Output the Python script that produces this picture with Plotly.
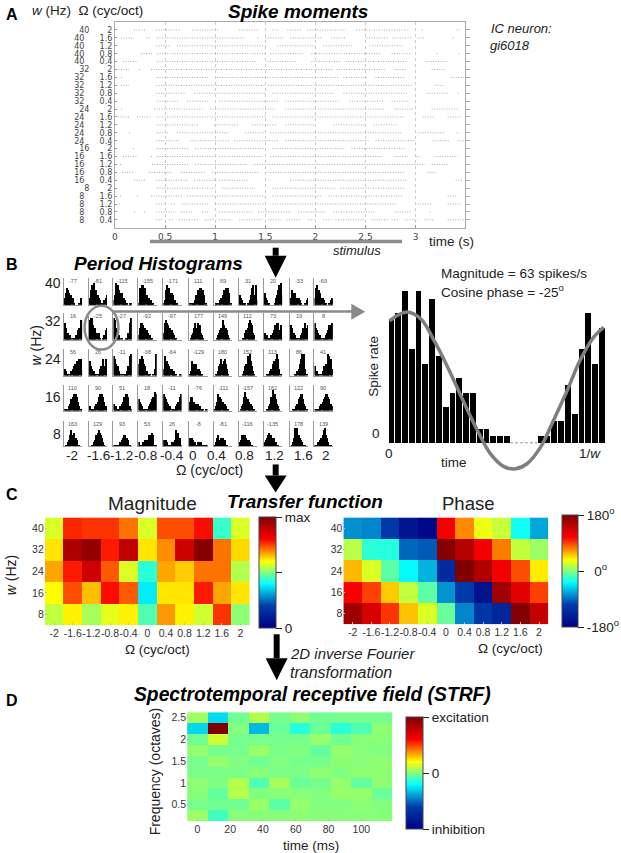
import plotly.graph_objects as go

W, H = 621, 853
FONT = "Liberation Sans"
TXT = "#222222"

# ---------- data ----------
w_rates = [40, 32, 24, 16, 8]
omegas = [-2, -1.6, -1.2, -0.8, -0.4, 0, 0.4, 0.8, 1.2, 1.6, 2]
omega_labels = ["-2", "-1.6", "-1.2", "-0.8", "-0.4", "0", "0.4", "0.8", "1.2", "1.6", "2"]
raster_omegas = ["2", "1.6", "1.2", "0.8", "0.4"]

raster_spans = [
    [(.19,.31),(.41,.66),(.77,1.04),(1.24,1.43),(1.57,1.63),(1.72,1.86),(1.92,2.3),(2.41,2.92),(3.06,3.08),(3.41,3.44)],
    [(.06,.19),(.31,.36),(.42,1.07),(1.07,1.28),(1.42,1.43),(1.5,1.68),(1.75,2.06),(2.16,2.3),(2.51,2.72),(2.77,2.96),(3.02,3.09),(3.37,3.38)],
    [(.41,.56),(.62,1.5),(1.62,2.0),(2.08,2.38),(2.54,2.87)],
    [(.26,.37),(.42,1.5),(1.55,1.88),(1.96,2.66),(2.76,2.96),(3.21,3.23),(3.43,3.45)],
    [(.08,.22),(.42,1.42),(1.52,1.81),(1.96,2.25),(2.3,2.92),(3.1,3.32)],
    [(.01,.14),(.24,.25),(.36,2.18),(2.21,2.69),(2.79,2.91),(3.16,3.29)],
    [(.06,.07),(.42,.94),(1.02,2.23),(2.28,2.51),(2.6,2.89),(3.35,3.49)],
    [(.06,.14),(.41,1.5),(1.53,2.96),(3.19,3.29)],
    [(.41,.71),(.79,1.5),(1.57,2.18),(2.28,2.91),(3.11,3.32),(3.42,3.44)],
    [(.42,.64),(.72,.94),(1.04,1.63),(1.7,2.23),(2.34,2.69),(2.76,2.92)],
    [(.06,.07),(.39,.87),(.95,1.6),(1.7,2.69),(2.79,2.99),(3.16,3.42)],
    [(.03,.14),(.22,.37),(.42,1.5),(1.57,2.89),(3.07,3.19),(3.32,3.45)],
    [(.42,.84),(.99,1.24),(1.37,1.62),(1.7,2.0),(2.18,2.49),(2.58,2.81)],
    [(.14,.15),(.42,.54),(.62,1.14),(1.3,1.5),(1.55,2.86),(3.02,3.29),(3.41,3.43)],
    [(.41,.64),(.75,1.14),(1.19,1.63),(1.7,2.53),(2.6,3.0),(3.17,3.34),(3.42,3.48)],
    [(.18,.19),(.42,.74),(.8,1.5),(1.57,2.28),(2.36,2.89)],
    [(.08,.22),(.36,.37),(.42,1.0),(1.04,1.47),(1.55,2.66),(2.79,2.92),(3.0,3.05),(3.19,3.42)],
    [(.05,.06),(.37,.74),(.8,1.33),(1.39,3.09),(3.16,3.32)],
    [(.07,.18),(.34,.57),(.66,.9),(.97,1.43),(1.5,2.89),(3.12,3.2)],
    [(.01,.02),(.19,.31),(.41,.72),(.79,1.0),(1.04,1.33),(1.75,2.92),(3.4,3.47)],
    [(.42,1.0),(1.07,1.4),(1.57,2.2),(2.25,2.89)],
    [(.05,.06),(.22,.23),(.36,.67),(.72,1.5),(1.57,2.06),(2.13,2.87),(3.32,3.42)],
    [(.04,.05),(.41,.51),(.56,.61),(.67,.94),(1.0,1.5),(1.57,2.82),(3.02,3.16),(3.32,3.45)],
    [(.19,.2),(.29,.3),(.41,.61),(.66,.77),(.87,.94),(1.04,1.37),(1.43,1.76),(1.83,2.1),(2.18,2.59),(2.79,2.96),(3.14,3.15)],
    [(.41,.47),(.54,.59),(.64,.84),(.9,1.0),(1.04,1.17),(1.24,1.47),(1.53,1.66),(1.71,1.86),(1.93,2.0),(2.08,2.16),(2.2,2.49),(2.56,2.72),(2.76,2.82),(2.89,3.02),(3.09,3.19),(3.32,3.49)],
]

phase_deg = [
    [-77, -81, -115, -155, -171, 111, 69, 31, 20, -33, -69],
    [16, -25, -27, -92, -97, 177, 149, 112, 73, 19, 8],
    [56, 26, -11, -38, -64, -129, 180, 152, 113, 86, 41],
    [110, 90, 51, 18, -11, -76, -111, -157, 162, 122, 90],
    [163, 129, 93, 53, 26, -8, -81, -116, -135, 178, 139],
]

mini_hist = [
    [[3,5,7,6,5,4,4,3,1,0,0,0,0,1,3,1],[3,6,8,7,9,6,6,4,3,2,1,1,1,2,3,4],[2,4,9,7,8,6,5,5,3,3,2,1,1,0,1,1],
     [1,7,7,8,8,7,7,4,3,3,2,2,1,1,0,0],[1,2,6,8,7,7,5,5,4,2,2,1,1,0,0,0],[1,0,1,1,1,2,4,6,5,7,7,5,6,4,1,0],
     [0,1,1,0,1,2,3,4,6,6,7,5,7,5,1,0],[4,3,2,1,1,1,0,1,1,2,4,7,8,4,8,2],[5,3,2,1,1,0,0,0,0,1,3,4,6,8,9,4],
     [3,6,5,4,5,3,3,3,2,1,0,0,0,1,2,3],[3,7,8,6,6,5,3,3,2,1,1,0,0,1,2,3]],
    [[7,5,3,3,2,2,1,1,1,1,2,2,4,5,8,8],[8,9,9,6,5,5,3,3,3,1,0,0,1,2,4,5],[9,8,5,4,3,2,1,1,0,0,0,1,1,3,7,9],
     [2,5,7,7,6,5,5,4,3,2,2,1,1,0,0,0],[3,7,8,7,6,5,5,4,3,2,1,1,0,0,0,0],[0,1,2,3,5,7,5,7,6,6,3,2,1,0,0,0],
     [0,0,1,2,3,4,5,8,6,5,5,4,2,1,0,0],[0,0,0,1,1,3,4,5,7,8,7,6,3,2,0,0],[3,2,2,1,1,1,2,3,4,6,5,7,7,4,6,1],
     [6,5,3,3,2,1,1,1,1,2,3,5,5,7,5,6],[7,5,4,3,2,2,1,1,1,1,2,3,4,6,6,7]],
    [[3,2,1,1,0,1,2,3,4,5,4,6,5,7,7,2],[6,4,3,2,2,1,1,1,1,3,4,3,7,4,7,5],[8,7,5,4,4,2,1,1,0,1,1,1,2,4,8,9],
     [5,7,6,8,7,5,4,2,1,1,1,0,0,1,3,9],[3,8,6,6,5,4,3,3,2,2,1,1,0,0,1,1],[1,2,6,4,5,4,5,3,3,2,1,1,0,0,0,0],
     [0,1,1,2,4,5,7,5,6,7,5,3,1,0,0,0],[0,0,0,1,2,4,5,8,6,9,6,4,2,1,0,0],[0,0,1,1,1,2,3,5,6,5,7,9,7,3,1,0],
     [0,0,0,0,1,1,2,3,5,7,9,9,9,3,1,0],[4,2,2,1,1,0,1,2,4,3,5,5,9,8,7,3]],
    [[1,1,1,1,2,3,5,6,7,6,7,6,4,2,1,1],[2,1,1,1,1,2,3,4,6,7,7,7,6,4,2,1],[3,2,2,1,1,1,2,3,4,6,6,7,7,6,2,1],
     [5,4,3,2,1,1,1,1,1,2,3,4,5,6,8,7],[7,6,5,4,3,2,2,1,1,1,1,2,3,4,6,7],[4,6,6,4,4,3,3,3,2,2,1,1,1,0,1,1],
     [1,2,4,7,6,6,5,4,3,3,2,1,1,0,0,0],[0,1,2,3,6,8,6,5,4,3,3,2,1,1,0,0],[0,0,1,1,2,3,6,9,5,7,5,3,2,1,0,0],
     [0,0,1,1,1,2,3,5,6,7,7,5,3,2,1,0],[1,1,1,1,1,2,3,4,5,6,7,7,6,5,3,2]],
    [[0,1,1,2,3,5,7,5,6,4,4,3,1,1,0,0],[0,0,1,1,2,3,5,6,7,6,5,4,2,1,0,0],[1,1,1,1,1,1,2,3,4,5,5,4,4,3,1,0],
     [2,1,1,1,2,2,3,3,3,5,4,5,6,5,1,1],[3,2,3,2,1,1,1,2,1,2,3,7,5,6,4,1],[4,3,4,3,2,2,1,2,2,1,2,1,1,1,1,1],
     [1,2,4,5,3,3,4,4,3,3,1,1,0,0,0,0],[2,3,5,5,4,5,4,3,3,2,1,1,0,0,0,0],[2,3,4,5,6,5,5,4,4,2,2,1,1,0,0,0],
     [0,1,2,4,8,5,8,5,4,3,2,1,1,1,0,0],[1,1,1,2,2,3,4,5,7,8,5,4,2,1,1,0]],
]

big_hist = [17,18,21,13,21,11,20,12,5,7,9,7,7,2,2,1,1,1,0,0,0,0,1,1,3,3,8,4,13,18,11,16]
curve_x = [0.25,2.8,4.9,6.84,8.8,11.2,13.2,15.1,17.1,18.8,20.5,22.5,24.4,26.4,28.3,30.3,31.8]
curve_y = [16.9,18.1,17.1,14.1,10.5,5.6,1.7,-1.5,-3.3,-3.6,-2.9,-0.6,3.1,7.2,11.4,14.6,16.0]
empty_bins = [18, 22]

magnitude = [
    [.57,.77,.76,.76,.71,.57,.74,.74,.79,.44,.57],
    [.62,.93,.97,.78,.90,.62,.69,.87,.99,.71,.63],
    [.67,.78,.87,.73,.57,.43,.67,.64,.71,.71,.54],
    [.60,.74,.65,.79,.73,.38,.62,.62,.78,.67,.62],
    [.55,.61,.53,.58,.61,.46,.68,.61,.56,.76,.51],
]

strf_time = [0, 12.5, 25, 37.5, 50, 62.5, 75, 87.5, 100, 112.5]
strf_freq = [2.5, 2.25, 2.0, 1.75, 1.5, 1.25, 1.0, 0.75, 0.5, 0.25]
strf = [
    [.05,-.27,-.03,.08,-.02,.02,-.03,-.02,-.02,-.02],
    [-.28,1.0,0,-.34,-.04,-.15,-.04,-.14,-.08,.02],
    [-.03,.12,-.02,-.02,-.02,-.02,.03,-.03,.01,.01],
    [.03,-.02,-.02,.04,-.01,0,-.05,.03,.01,0],
    [-.02,.03,0,-.03,0,-.02,-.02,.02,.01,.02],
    [-.01,-.01,-.01,.01,-.01,-.01,.02,0,.02,.02],
    [.02,0,.08,-.08,.06,-.04,-.02,.03,-.05,.02],
    [.01,-.05,.08,0,.01,.01,0,.03,.03,-.04],
    [-.02,-.03,-.03,.04,-.06,.03,0,0,.02,0],
    [.04,-.1,.01,.01,.01,.02,.01,.01,.01,.01],
]

# ---------- helpers ----------
def dx(a, b): return [a / W, b / W]
def dy(top, bottom): return [1 - bottom / H, 1 - top / H]

annotations, shapes = [], []

def text(px, py, s, size=13, anchor="center", color=TXT, angle=0, vanchor="middle", family=FONT):
    annotations.append(dict(xref="paper", yref="paper", x=px / W, y=1 - py / H, text=s, showarrow=False,
                            xanchor=anchor, yanchor=vanchor, textangle=angle, borderpad=0, borderwidth=0,
                            font=dict(family=family, size=size, color=color)))

def rect(x0, y0, x1, y1, color):
    shapes.append(dict(type="rect", xref="paper", yref="paper", x0=x0 / W, x1=x1 / W, y0=1 - y0 / H, y1=1 - y1 / H,
                       fillcolor=color, line=dict(width=0)))

def tri(xl, xr, yt, tipx, tipy, color):
    path = f"M {xl/W} {1-yt/H} L {xr/W} {1-yt/H} L {tipx/W} {1-tipy/H} Z"
    shapes.append(dict(type="path", xref="paper", yref="paper", path=path, fillcolor=color, line=dict(width=0)))

def black_arrow(cx, y0, yhead, ytip, half=11, shaft=3):
    rect(cx - shaft, y0, cx + shaft, yhead, "black")
    tri(cx - half, cx + half, yhead, cx, ytip, "black")

layout = dict(width=W, height=H, margin=dict(l=0, r=0, t=0, b=0), paper_bgcolor="white", plot_bgcolor="white",
              showlegend=False, bargap=0, font=dict(family=FONT, color=TXT))
traces = []

# ---------- panel A ----------
sx, sy = [], []
for row, spans in enumerate(raster_spans):
    for a, b in spans:
        sx += [a, b, None]
        sy += [row, row, None]
traces.append(go.Scatter(x=sx, y=sy, mode="lines", xaxis="x", yaxis="y", hoverinfo="skip",
                         line=dict(color="#aaaaaa", width=1, dash="1px,1.5px")))
row_labels = []
for w in w_rates:
    for o in raster_omegas:
        gap = "\u00a0" * (7 if len(o) == 1 else 6)
        row_labels.append(f"{w}{gap}{o}")
rows = list(range(25))
layout["xaxis"] = dict(domain=dx(112.5, 464.5), range=[0, 3.495], anchor="y", tickvals=[0, .5, 1, 1.5, 2, 2.5, 3],
                       ticktext=["0", "0.5", "1", "1.5", "2", "2.5", "3"], ticks="inside", ticklen=3, tickcolor="#999",
                       showgrid=True, gridcolor="#cccccc", griddash="dot", gridwidth=1, zeroline=False,
                       showline=True, linecolor="#aaaaaa", linewidth=1, mirror=True, tickangle=0,
                       tickfont=dict(family="DejaVu Sans", size=9, color="#444"))
layout["yaxis"] = dict(domain=dy(20.7, 227), range=[25, -1.05], anchor="x", tickvals=rows, ticktext=row_labels,
                       ticks="inside", ticklen=2, tickcolor="#999", showgrid=False, zeroline=False, showline=True,
                       linecolor="#aaaaaa", linewidth=1, mirror=True,
                       tickfont=dict(family="DejaVu Sans", size=8, color="#444"))
traces.append(go.Scatter(x=[None], y=[None], xaxis="x", yaxis="y2", hoverinfo="skip"))
layout["yaxis2"] = dict(overlaying="y", side="right", range=[25, -1.05], anchor="x", tickvals=rows, showticklabels=False,
                        ticks="outside", ticklen=4, tickcolor="#aaa", showgrid=False, zeroline=False, showline=False)

text(9, 14, "<b>A</b>", 16, anchor="center", color="black")
text(29, 10, "<i>w</i> (Hz)\u00a0\u00a0Ω (cyc/oct)", 13.5, anchor="left")
text(296.5, 11, "<b><i>Spike moments</i></b>", 19, color="black")
text(490, 28, "<i>IC neuron:</i>", 13, anchor="left")
text(489, 45, "<i>gi6018</i>", 13, anchor="left")
text(428, 241, "time (s)", 13.5, anchor="left")
text(356, 250, "<i>stimulus</i>", 13)
rect(147.7, 239, 401, 242.5, "#8f8f8f")
black_arrow(274, 247, 255, 277)

# ---------- panel B ----------
col_left = [61, 86, 111, 136, 161, 187, 212, 237, 262, 288, 313]
row_top = [277, 312, 348, 384, 420]
row_bottom = [304, 339, 375, 410, 446]
row_label_y = [282, 320, 358, 396, 434]
n = 3
mini_bins = [i + 0.5 for i in range(16)]
for r in range(5):
    for c in range(11):
        traces.append(go.Bar(x=mini_bins, y=mini_hist[r][c], width=1, marker=dict(color="black", line=dict(width=0)),
                             xaxis=f"x{n}", yaxis=f"y{n}", hoverinfo="skip"))
        layout[f"xaxis{n}"] = dict(domain=dx(col_left[c], col_left[c] + 18.5), range=[0, 16], anchor=f"y{n}",
                                   showticklabels=False, ticks="", showgrid=False, zeroline=False,
                                   showline=True, linecolor="#9a9a9a", linewidth=1)
        layout[f"yaxis{n}"] = dict(domain=dy(row_top[r], row_bottom[r]), range=[0, 11], anchor=f"x{n}",
                                   showticklabels=False, ticks="", showgrid=False, zeroline=False,
                                   showline=True, linecolor="#9a9a9a", linewidth=1)
        text(col_left[c] + 9, row_top[r] + 3, str(phase_deg[r][c]), 5.5, color="#555")
        n += 1

text(9, 264, "<b>B</b>", 16, color="black")
text(156.5, 263, "<b><i>Period Histograms</i></b>", 19, color="black")
for w, y in zip(w_rates, row_label_y):
    text(58, y, str(w), 14, anchor="right")
text(33, 345, "<i>w</i> (Hz)", 14, angle=-90)
bx = [69, 96, 119, 143, 170, 191, 215, 243, 273, 302, 325]
for x, l in zip(bx, omega_labels):
    text(x, 455, l, 13.5)
text(207, 470, "Ω (cyc/oct)", 14)
shapes.append(dict(type="circle", xref="paper", yref="paper", x0=82 / W, x1=116 / W, y0=1 - 349 / H, y1=1 - 305 / H,
                   line=dict(color="#8a8a8a", width=2.5)))
rect(110, 309.7, 352, 312, "#8a8a8a")
shapes.append(dict(type="path", xref="paper", yref="paper",
                   path=f"M {350/W} {1-303/H} L {364/W} {1-311/H} L {350/W} {1-319/H} Z",
                   fillcolor="#8a8a8a", line=dict(width=0)))

big_x = [i + 0.5 for i in range(32)]
traces.append(go.Bar(x=big_x, y=big_hist, width=0.84, marker=dict(color="black", line=dict(width=0)),
                     xaxis=f"x{n}", yaxis=f"y{n}", hoverinfo="skip"))
traces.append(go.Scatter(x=empty_bins, y=[0, 0], mode="lines", line=dict(color="#999", width=1, dash="3px,2px"),
                         xaxis=f"x{n}", yaxis=f"y{n}", hoverinfo="skip"))
traces.append(go.Scatter(x=curve_x, y=curve_y, mode="lines", line=dict(color="#7f7f7f", width=3.5, shape="spline"),
                         xaxis=f"x{n}", yaxis=f"y{n}", hoverinfo="skip"))
layout[f"xaxis{n}"] = dict(domain=dx(386.7, 605), range=[0, 32], anchor=f"y{n}", visible=False)
layout[f"yaxis{n}"] = dict(domain=dy(280, 475), range=[-4.52, 22.45], anchor=f"x{n}", visible=False)
n += 1
text(440, 273, "Magnitude = 63 spikes/s", 13.5, anchor="left")
text(440, 290, "Cosine phase = -25<sup>o</sup>", 13.5, anchor="left")
text(375, 433, "0", 13.5)
text(388, 453, "0", 13.5)
text(590, 453, "1/<i>w</i>", 13.5)
text(453, 462, "time", 13.5)
text(372, 366, "Spike rate", 13.5, angle=-90)
black_arrow(274, 464, 475, 492)

# ---------- panel C ----------
def heat_axes(xname, yname, xd, yd):
    tf = dict(family=FONT, size=10.5, color="#333")
    layout[xname] = dict(domain=xd, range=[-2.2, 2.2], anchor=yname.replace("axis", ""), tickvals=omegas,
                         ticktext=omega_labels, ticks="inside", ticklen=2, tickcolor="#bbb", tickfont=tf, tickangle=0,
                         showgrid=False, zeroline=False, showline=False)
    layout[yname] = dict(domain=yd, range=[4, 44], anchor=xname.replace("axis", ""), tickvals=w_rates,
                         ticks="inside", ticklen=2, tickcolor="#bbb", tickfont=tf,
                         showgrid=False, zeroline=False, showline=False)

traces.append(go.Heatmap(z=magnitude, x=omegas, y=w_rates, colorscale="Jet", zmin=0, zmax=1, xaxis=f"x{n}", yaxis=f"y{n}",
                         hoverinfo="skip",
                         colorbar=dict(x=257 / W, xanchor="left", y=1 - 628 / H, yanchor="bottom", len=111 / H, lenmode="fraction",
                                       thickness=17, thicknessmode="pixels", xpad=0, ypad=0, tickvals=[0, .5, 1],
                                       ticktext=["0", "\u00a0", "max"], ticks="outside", ticklen=6, tickcolor="#222",
                                       outlinecolor="#445", outlinewidth=1, tickfont=dict(family=FONT, size=13.5, color=TXT))))
heat_axes(f"xaxis{n}", f"yaxis{n}", dx(42, 248), dy(517, 625))
n += 1
traces.append(go.Heatmap(z=phase_deg, x=omegas, y=w_rates, colorscale="Jet", zmin=-180, zmax=180, xaxis=f"x{n}", yaxis=f"y{n}",
                         hoverinfo="skip",
                         colorbar=dict(x=562 / W, xanchor="left", y=1 - 627 / H, yanchor="bottom", len=112 / H, lenmode="fraction",
                                       thickness=16, thicknessmode="pixels", xpad=0, ypad=0, tickvals=[-180, 0, 180],
                                       ticktext=["-180<sup>o</sup>", "\u00a0\u00a00<sup>o</sup>", "180<sup>o</sup>"],
                                       ticks="outside", ticklen=6, tickcolor="#222",
                                       outlinecolor="#445", outlinewidth=1, tickfont=dict(family=FONT, size=13.5, color=TXT))))
heat_axes(f"xaxis{n}", f"yaxis{n}", dx(342, 548), dy(517, 624))
n += 1
text(9, 494, "<b>C</b>", 16, color="black")
text(150, 503, "Magnitude", 19)
text(303.5, 501, "<b><i>Transfer function</i></b>", 19, color="black")
text(467, 503, "Phase", 18.5)
text(8, 575, "<i>w</i> (Hz)", 14, angle=-90)
text(155, 649, "Ω (cyc/oct)", 13.5)
text(510, 648, "Ω (cyc/oct)", 13.5)
text(288, 653, "<i>2D inverse Fourier</i>", 15, anchor="left")
text(288, 672, "<i>transformation</i>", 16, anchor="left")
black_arrow(275, 634, 658, 680)

# ---------- panel D ----------
traces.append(go.Heatmap(z=strf, x=strf_time, y=strf_freq, colorscale="Jet", zmin=-1, zmax=1, xaxis=f"x{n}", yaxis=f"y{n}",
                         hoverinfo="skip",
                         colorbar=dict(x=405 / W, xanchor="left", y=1 - 829 / H, yanchor="bottom", len=112 / H, lenmode="fraction",
                                       thickness=17, thicknessmode="pixels", xpad=0, ypad=0, tickvals=[-1, 0, 1],
                                       ticktext=["inhibition", "0", "excitation"], ticks="outside", ticklen=6, tickcolor="#222",
                                       outlinecolor="#445", outlinewidth=1, tickfont=dict(family=FONT, size=13.5, color=TXT))))
tf = dict(family=FONT, size=10.5, color="#333")
layout[f"xaxis{n}"] = dict(domain=dx(185, 391), range=[-6.25, 118.75], anchor=f"y{n}", tickvals=[0, 20, 40, 60, 80, 100],
                           ticks="inside", ticklen=2, tickcolor="#bbb", tickfont=tf, showgrid=False, zeroline=False, tickangle=0)
layout[f"yaxis{n}"] = dict(domain=dy(712, 821), range=[0.125, 2.625], anchor=f"x{n}", tickvals=[0.5, 1, 1.5, 2, 2.5],
                           ticktext=["0.5", "1", "1.5", "2", "2.5"], ticks="inside", ticklen=2, tickcolor="#bbb",
                           tickfont=tf, showgrid=False, zeroline=False)
text(9, 700, "<b>D</b>", 16, color="black")
text(310.5, 694, "<b><i>Spectrotemporal receptive field (STRF)</i></b>", 19.3, color="black")
text(153, 771, "Frequency (octaves)", 14, angle=-90)
text(309, 845, "time (ms)", 13.5)

layout["annotations"] = annotations
layout["shapes"] = shapes
fig = go.Figure(data=traces, layout=layout)
fig.write_html("out.html", post_script="document.body.style.margin='0';document.body.style.overflow='hidden';",
               config={"displayModeBar": False})
